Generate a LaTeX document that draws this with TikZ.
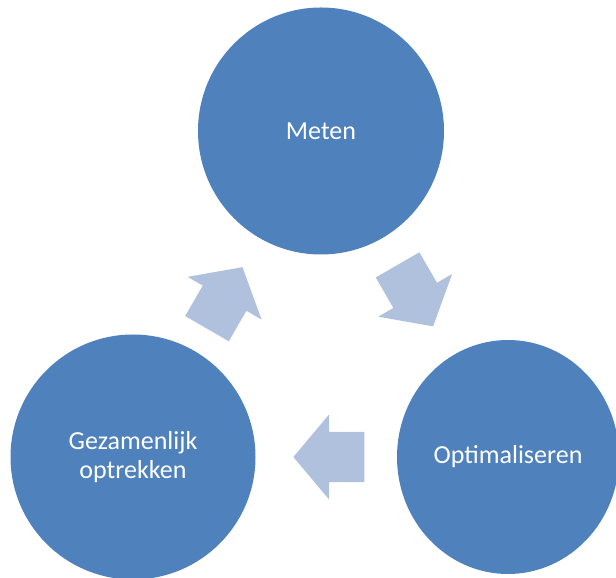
\documentclass[tikz,border=0pt]{standalone}
\usepackage{fontspec}
\setmainfont{Carlito}
\usetikzlibrary{shapes.arrows,shapes.geometric,calc}
\definecolor{circleblue}{HTML}{4F81BD}
\definecolor{arrowblue}{HTML}{B0C1DE}

\begin{document}
\begin{tikzpicture}[x=1pt, y=1pt,
	circle_style/.style={ellipse, fill=circleblue, text=white, inner sep=0pt, align=center, font=\fontsize{26}{29}\selectfont},
	arrow_style/.style={single arrow, fill=arrowblue, inner xsep=0pt, inner ysep=25pt, minimum height=71pt,
		single arrow head extend=17.5pt, single arrow tip angle=100, anchor=tip}]
	
	\useasboundingbox (0,0) rectangle (616,578);
	
	\node[circle_style, minimum width=246pt, minimum height=247pt] (meten) at (321,447) {Meten};
	\node[circle_style, minimum width=245pt, minimum height=245pt] (gez) at (133,121) {Gezamenlijk\\optrekken};
	\node[circle_style, minimum width=222pt, minimum height=234pt] (opt) at (508,121) {Optimaliseren};
	
	\foreach \a/\b/\t/\r/\n in {gez/meten/0.583/60/up, meten/opt/0.6/-60/down, opt/gez/0.573/180/left}{
		\node[arrow_style, rotate=\r] (\n) at ($(\a)!\t!(\b)$) {};}
\end{tikzpicture}
\end{document}
